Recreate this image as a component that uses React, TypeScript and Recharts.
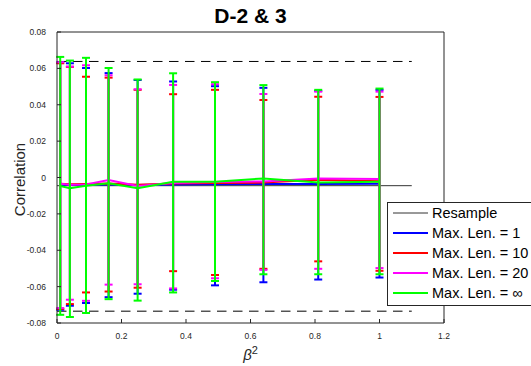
import React from 'react';
import {
  ComposedChart,
  Line,
  XAxis,
  YAxis,
  ErrorBar,
  Legend,
  Label
} from 'recharts';

const FONT = 'Liberation Sans, Arial, Helvetica, sans-serif';
const AXIS_COLOR = '#262626';

// beta^2 positions of the points
const betaSq = [0.01, 0.04, 0.09, 0.16, 0.25, 0.36, 0.49, 0.64, 0.81, 1.0];

// mean correlation per series
const mean1 = [-0.004, -0.0041, -0.004, -0.0039, -0.0041, -0.0038, -0.0037, -0.0036, -0.0036, -0.0035];
const mean10 = [-0.0035, -0.0037, -0.0036, -0.0033, -0.004, -0.0033, -0.003, -0.0028, -0.0012, -0.002];
const mean20 = [-0.0035, -0.004, -0.0038, -0.0014, -0.0047, -0.003, -0.0025, -0.0022, -0.0005, -0.0008];
const meanInf = [-0.0047, -0.0059, -0.0045, -0.0032, -0.0059, -0.0023, -0.0023, -0.0005, -0.0028, -0.0023];

// upper ends of the error bars
const hi1 = [0.0632, 0.0628, 0.0602, 0.0574, 0.0536, 0.0528, 0.0502, 0.0493, 0.0476, 0.0482];
const hi10 = [0.0628, 0.0608, 0.0554, 0.0549, 0.0482, 0.0458, 0.0482, 0.0426, 0.0444, 0.0443];
const hi20 = [0.0634, 0.061, 0.0617, 0.0562, 0.0485, 0.0509, 0.0513, 0.0459, 0.0472, 0.0472];
const hiInf = [0.0663, 0.0643, 0.0658, 0.0602, 0.0539, 0.0573, 0.0524, 0.0508, 0.0482, 0.0489];

// lower ends of the error bars
const lo1 = [-0.0727, -0.0705, -0.069, -0.0658, -0.0639, -0.0617, -0.0593, -0.0576, -0.0561, -0.055];
const lo10 = [-0.0722, -0.0696, -0.0632, -0.0627, -0.0606, -0.0515, -0.0536, -0.0502, -0.0461, -0.0513];
const lo20 = [-0.0718, -0.0672, -0.0678, -0.0589, -0.0587, -0.061, -0.0554, -0.0508, -0.0502, -0.0498];
const loInf = [-0.0755, -0.0767, -0.0745, -0.0669, -0.0677, -0.0632, -0.0569, -0.0532, -0.0532, -0.0532];

// resample reference: mean and bounds, drawn over [0, 1.1]
const resampleX = [0, 1.1];
const resampleMean = -0.0045;
const resampleHi = 0.0638;
const resampleLo = -0.0735;

const xTicks = [0, 0.2, 0.4, 0.6, 0.8, 1, 1.2];
const yTicks = [-0.08, -0.06, -0.04, -0.02, 0, 0.02, 0.04, 0.06, 0.08];

const series = [
  { key: 's1', name: 'Max. Len. = 1', color: '#0000ff', mean: mean1, lo: lo1, hi: hi1 },
  { key: 's10', name: 'Max. Len. = 10', color: '#ff0000', mean: mean10, lo: lo10, hi: hi10 },
  { key: 's20', name: 'Max. Len. = 20', color: '#ff00ff', mean: mean20, lo: lo20, hi: hi20 },
  { key: 'sInf', name: 'Max. Len. = \u221e', color: '#00ff00', mean: meanInf, lo: loInf, hi: hiInf }
];

const legendOrder = ['Resample', ...series.map((s) => s.name)];

const data = betaSq.map((x, i) => {
  const row: Record<string, any> = { x };
  series.forEach((s) => {
    row[s.key] = s.mean[i];
    row[s.key + 'Err'] = [s.mean[i] - s.lo[i], s.hi[i] - s.mean[i]];
  });
  return row;
});

const resampleData = resampleX.map((x) => ({ x, m: resampleMean, hi: resampleHi, lo: resampleLo }));

const renderLegend = (props: any) => {
  const items = (props.payload || [])
    .filter((p: any) => p.type !== 'none' && legendOrder.includes(p.value))
    .sort((a: any, b: any) => legendOrder.indexOf(a.value) - legendOrder.indexOf(b.value));
  return (
    <div
      style={{
        border: '1px solid ' + AXIS_COLOR,
        background: '#fff',
        padding: '0 0 2px 5px',
        fontFamily: FONT,
        fontSize: 14.5,
        color: '#000',
        width: 170
      }}
    >
      {items.map((p: any) => (
        <div key={p.value} style={{ height: 20, display: 'flex', alignItems: 'center' }}>
          <svg width={36} height={4} style={{ marginRight: 3 }}>
            <line
              x1={0}
              x2={35}
              y1={2}
              y2={2}
              stroke={p.color}
              strokeWidth={p.value === 'Resample' ? 1 : 2}
            />
          </svg>
          <span style={{ whiteSpace: 'nowrap' }}>{p.value}</span>
        </div>
      ))}
    </div>
  );
};

const App = () => {
  return (
    <div
      style={{
        position: 'absolute',
        left: 0,
        top: 0,
        width: 531,
        height: 366,
        overflow: 'hidden',
        background: '#fff'
      }}
    >
      <ComposedChart
        width={531}
        height={366}
        data={data}
        margin={{ top: 31, right: 86, bottom: 13, left: 8 }}
      >
        <XAxis
          xAxisId="b"
          dataKey="x"
          type="number"
          domain={[0, 1.2]}
          ticks={xTicks}
          height={30}
          tickSize={-4}
          tickMargin={14}
          stroke={AXIS_COLOR}
          tick={{ fill: AXIS_COLOR, fontSize: 8.5, fontFamily: FONT }}
          allowDataOverflow
        >
          <Label
            content={(p: any) => {
              const vb = p.viewBox;
              return (
                <text
                  x={vb.x + vb.width / 2}
                  y={vb.y + 37}
                  textAnchor="middle"
                  fill={AXIS_COLOR}
                  fontFamily={FONT}
                  fontSize={15}
                >
                  <tspan fontStyle="italic">{'\u03b2'}</tspan>
                  <tspan dy={-6} fontSize={11}>2</tspan>
                </text>
              );
            }}
          />
        </XAxis>
        <XAxis
          xAxisId="t"
          orientation="top"
          type="number"
          domain={[0, 1.2]}
          ticks={xTicks}
          height={1}
          tickSize={-4}
          tick={false}
          stroke={AXIS_COLOR}
          allowDataOverflow
        >
          <Label
            content={(p: any) => {
              const vb = p.viewBox;
              return (
                <text
                  x={vb.x + vb.width / 2}
                  y={vb.y - 8}
                  textAnchor="middle"
                  fill="#000"
                  fontFamily={FONT}
                  fontSize={21}
                  fontWeight="bold"
                >
                  D-2 &amp; 3
                </text>
              );
            }}
          />
        </XAxis>
        <YAxis
          yAxisId="l"
          type="number"
          domain={[-0.08, 0.08]}
          ticks={yTicks}
          width={49}
          tickSize={-4}
          tickMargin={15}
          stroke={AXIS_COLOR}
          tick={{ fill: AXIS_COLOR, fontSize: 8.5, fontFamily: FONT }}
          allowDataOverflow
        >
          <Label
            content={(p: any) => {
              const vb = p.viewBox;
              const cx = vb.x + 17;
              const cy = vb.y + vb.height / 2 + 2;
              return (
                <text
                  x={cx}
                  y={cy}
                  transform={`rotate(-90, ${cx}, ${cy})`}
                  textAnchor="middle"
                  fill={AXIS_COLOR}
                  fontFamily={FONT}
                  fontSize={15}
                >
                  Correlation
                </text>
              );
            }}
          />
        </YAxis>
        <YAxis
          yAxisId="r"
          orientation="right"
          type="number"
          domain={[-0.08, 0.08]}
          ticks={yTicks}
          width={1}
          tickSize={-4}
          tick={false}
          stroke={AXIS_COLOR}
          allowDataOverflow
        />

        <Line
          xAxisId="b"
          yAxisId="l"
          data={resampleData}
          dataKey="m"
          name="Resample"
          stroke="#333"
          strokeWidth={1}
          dot={false}
          activeDot={false}
          isAnimationActive={false}
        />
        <Line
          xAxisId="b"
          yAxisId="l"
          data={resampleData}
          dataKey="hi"
          legendType="none"
          stroke="#000"
          strokeWidth={1}
          strokeDasharray="9.5 6.5"
          dot={false}
          activeDot={false}
          isAnimationActive={false}
        />
        <Line
          xAxisId="b"
          yAxisId="l"
          data={resampleData}
          dataKey="lo"
          legendType="none"
          stroke="#000"
          strokeWidth={1}
          strokeDasharray="9.5 6.5"
          dot={false}
          activeDot={false}
          isAnimationActive={false}
        />

        {series.map((s) => (
          <Line
            key={s.key}
            xAxisId="b"
            yAxisId="l"
            dataKey={s.key}
            name={s.name}
            stroke={s.color}
            strokeWidth={2}
            dot={false}
            activeDot={false}
            isAnimationActive={false}
          >
            <ErrorBar
              dataKey={s.key + 'Err'}
              direction="y"
              width={4}
              stroke={s.color}
              strokeWidth={2}
              isAnimationActive={false}
            />
          </Line>
        ))}

        <Legend
          layout="vertical"
          align="center"
          verticalAlign="middle"
          content={renderLegend}
          wrapperStyle={{ position: 'absolute', left: 387, top: 202, width: 180, height: 'auto' }}
        />
      </ComposedChart>
    </div>
  );
};

export default App;
